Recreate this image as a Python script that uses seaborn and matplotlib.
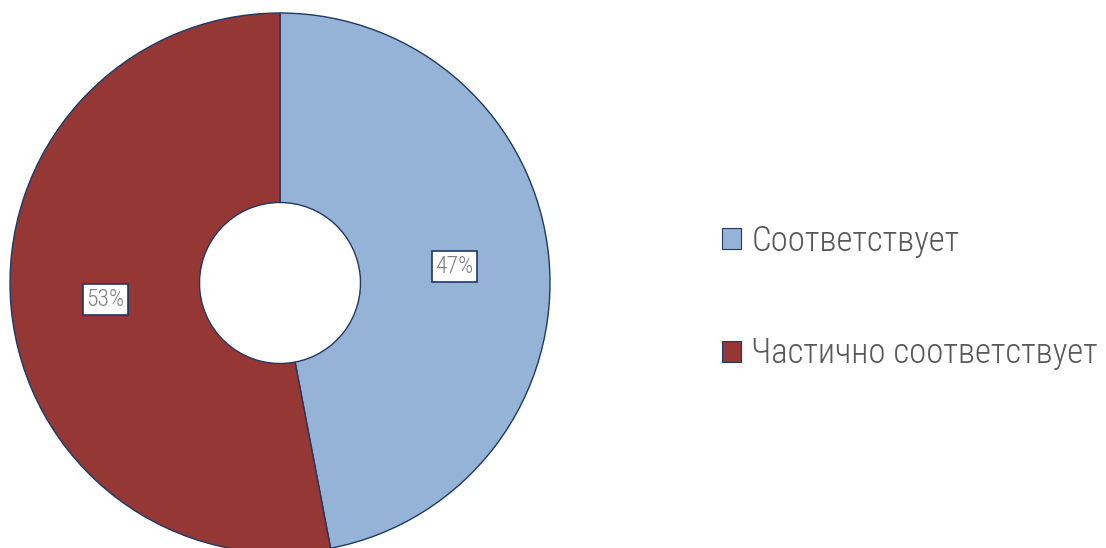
import matplotlib
matplotlib.use("Agg")
import matplotlib.pyplot as plt
from matplotlib import font_manager
from matplotlib.patches import Patch
import seaborn as sns

categories = ["Соответствует", "Частично соответствует"]
values = [47, 53]
colors = ["#95B3D7", "#953735"]

sns.set_theme(style="white")

family = "DejaVu Sans"
for cand in ["Roboto Condensed", "Liberation Sans Narrow", "DejaVu Sans"]:
    try:
        font_manager.findfont(font_manager.FontProperties(family=cand), fallback_to_default=False)
        family = cand
        break
    except Exception:
        continue
plt.rcParams["font.family"] = [family, "DejaVu Sans"]

W, H = 1106, 548
fig = plt.figure(figsize=(W / 100, H / 100), dpi=100)
ax = fig.add_axes([0, 0, 1, 1])

cx, cy, R = 280, H - 283, 270
wedges, texts, autotexts = ax.pie(
    values,
    colors=colors,
    startangle=90,
    counterclock=False,
    radius=R,
    center=(cx, cy),
    autopct=lambda p: f"{p:.0f}%",
    pctdistance=0.65,
    wedgeprops=dict(width=R - 80.5, edgecolor="#1F3864", linewidth=1.0),
    textprops=dict(color="#808080", fontsize=17, fontweight="light"),
)
for t in autotexts:
    t.set_bbox(dict(boxstyle="square,pad=0.15", facecolor="white", edgecolor="#1F3864", linewidth=1.2))

ax.set_xlim(0, W)
ax.set_ylim(0, H)
ax.set_aspect("equal")
ax.axis("off")

handles = [Patch(facecolor=c, edgecolor="#1F3864", linewidth=0.8) for c in colors]
leg = fig.legend(
    handles, categories,
    loc="center left",
    bbox_to_anchor=(722 / W, 1 - 297.5 / H),
    frameon=False,
    prop=dict(size=25, weight="light"),
    borderpad=0,
    borderaxespad=0,
    handlelength=0.56,
    handleheight=0.56,
    handletextpad=0.28,
    labelspacing=2.27,
    labelcolor="#595959",
)

fig.savefig("out.png", dpi=100)
